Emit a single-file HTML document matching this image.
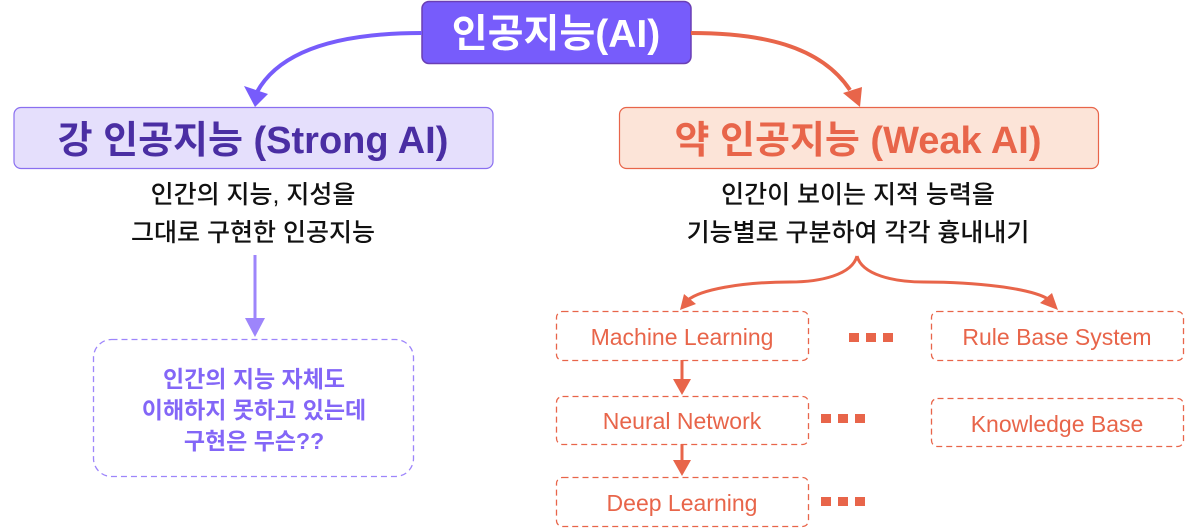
<!DOCTYPE html>
<html><head><meta charset="utf-8"><style>
html,body{margin:0;padding:0;background:#fff;}
svg{display:block;}
text{font-family:"Liberation Sans","Noto Sans CJK KR",sans-serif;}
</style></head><body>
<svg width="1196" height="530" viewBox="0 0 1196 530" xmlns="http://www.w3.org/2000/svg">
<!-- top box -->
<rect x="422" y="1.5" width="269" height="62" rx="7" fill="#775cfb" stroke="#6a3fb5" stroke-width="1.5"/>
<text x="556" y="47" text-anchor="middle" font-size="39" font-weight="bold" fill="#fff">인공지능(AI)</text>
<!-- left curve -->
<path d="M422 33 C340 33 280 50 257 92" fill="none" stroke="#775cfb" stroke-width="4"/>
<polygon points="244,86 268,94 255,107" fill="#775cfb"/>
<!-- right curve -->
<path d="M691 33 C760 33 820 45 850 90" fill="none" stroke="#e8654a" stroke-width="4"/>
<polygon points="843,93 862,87 860,107" fill="#e8654a"/>
<!-- strong box -->
<rect x="14" y="107.5" width="479" height="61" rx="7" fill="#e5dffc" stroke="#8a6ff0" stroke-width="1.2"/>
<text x="253" y="153" text-anchor="middle" font-size="38" font-weight="bold" fill="#4a2ea3">강 인공지능 (Strong AI)</text>
<!-- weak box -->
<rect x="619.5" y="107.5" width="479" height="61" rx="7" fill="#fce4d8" stroke="#e8654a" stroke-width="1.2"/>
<text x="858" y="153" text-anchor="middle" font-size="38" font-weight="bold" fill="#e8654a">약 인공지능 (Weak AI)</text>
<!-- descriptions -->
<g font-size="25" font-weight="500" fill="#111" text-anchor="middle">
<text x="253" y="203">인간의 지능, 지성을</text>
<text x="253" y="241">그대로 구현한 인공지능</text>
<text x="858" y="203">인간이 보이는 지적 능력을</text>
<text x="858" y="241">기능별로 구분하여 각각 흉내내기</text>
</g>
<!-- purple down arrow -->
<line x1="255" y1="255" x2="255" y2="322" stroke="#9d85fb" stroke-width="3"/>
<polygon points="245,318 265,318 255,337" fill="#9d85fb"/>
<!-- note box -->
<rect x="93.5" y="339.5" width="320" height="137" rx="18" fill="none" stroke="#9d85fb" stroke-width="1.3" stroke-dasharray="6,4"/>
<g font-size="23" font-weight="bold" fill="#8366f7" text-anchor="middle">
<text x="254" y="387">인간의 지능 자체도</text>
<text x="254" y="418">이해하지 못하고 있는데</text>
<text x="254" y="449">구현은 무슨??</text>
</g>
<!-- brace -->
<path d="M857 256 C852 275 820 282 790 282 C740 282 700 290 688 300" fill="none" stroke="#e8654a" stroke-width="3"/>
<polygon points="680,310 684,294 696,304" fill="#e8654a"/>
<path d="M857 256 C862 275 894 282 924 282 C975 282 1030 288 1048 299" fill="none" stroke="#e8654a" stroke-width="3"/>
<polygon points="1058,310 1040,303 1052,293" fill="#e8654a"/>
<!-- dashed boxes -->
<g fill="none" stroke="#e8654a" stroke-width="1.3" stroke-dasharray="6,4">
<rect x="556.5" y="311.5" width="252" height="49" rx="6"/>
<rect x="556.5" y="396.5" width="252" height="48" rx="6"/>
<rect x="556.5" y="477.5" width="252" height="49" rx="6"/>
<rect x="931.5" y="311.5" width="252" height="49" rx="6"/>
<rect x="931.5" y="398.5" width="252" height="48" rx="6"/>
</g>
<g font-size="23" fill="#e8654a" text-anchor="middle">
<text x="682" y="345">Machine Learning</text>
<text x="682" y="429">Neural Network</text>
<text x="682" y="511">Deep Learning</text>
<text x="1057" y="345">Rule Base System</text>
<text x="1057" y="432">Knowledge Base</text>
</g>
<!-- ML arrows -->
<line x1="682" y1="360" x2="682" y2="382" stroke="#e8654a" stroke-width="3"/>
<polygon points="673,379 691,379 682,395" fill="#e8654a"/>
<line x1="682" y1="444" x2="682" y2="463" stroke="#e8654a" stroke-width="3"/>
<polygon points="673,460 691,460 682,476" fill="#e8654a"/>
<!-- dots -->
<g fill="#e8654a">
<rect x="849" y="333" width="10" height="9"/><rect x="866" y="333" width="10" height="9"/><rect x="883" y="333" width="10" height="9"/>
<rect x="821" y="414" width="10" height="9"/><rect x="838" y="414" width="10" height="9"/><rect x="855" y="414" width="10" height="9"/>
<rect x="821" y="497" width="10" height="9"/><rect x="838" y="497" width="10" height="9"/><rect x="855" y="497" width="10" height="9"/>
</g>
</svg>
</body></html>
